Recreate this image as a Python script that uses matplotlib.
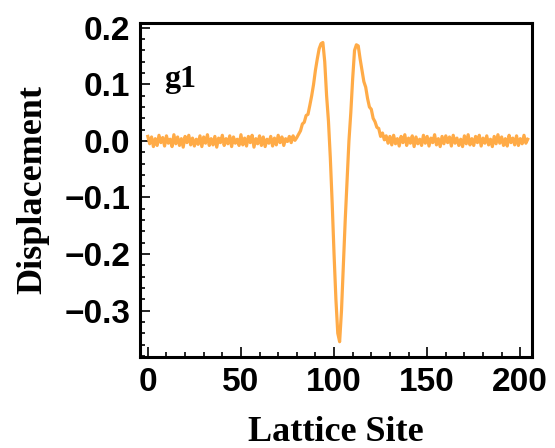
import numpy as np
import matplotlib
matplotlib.use("Agg")
import matplotlib.pyplot as plt
from matplotlib.ticker import MultipleLocator, FixedLocator

# Lattice displacement profile (sites 0..204)
left_tail = [
    0.008, -0.005, 0.007, -0.010, 0.004, -0.008, 0.010, -0.003, 0.006, -0.009,
    0.009, -0.004, 0.003, -0.010, 0.011, -0.005, 0.007, -0.008, 0.004, -0.011,
    0.008, -0.003, 0.010, -0.007, 0.005, -0.009, 0.003, -0.006, 0.009, -0.010,
    0.007, -0.004, 0.011, -0.008, 0.004, -0.007, 0.008, -0.011, 0.005, -0.003,
    0.010, -0.008, 0.004, -0.005, 0.009, -0.010, 0.007, -0.004, 0.003, -0.008,
    0.011, -0.007, 0.005, -0.009, 0.008, -0.003, 0.010, -0.011, 0.004, -0.005,
    0.009, -0.008, 0.007, -0.010, 0.003, -0.004, 0.008, -0.009, 0.005, -0.007,
    0.010, -0.003, 0.007, -0.008, 0.004, -0.001, 0.008, -0.003, 0.009, 0.001,
]
core = [
    0.006, 0.012, 0.018, 0.030, 0.033, 0.045, 0.047, 0.063, 0.080, 0.100,
    0.125, 0.145, 0.163, 0.172, 0.174, 0.140, 0.080, 0.035, -0.030, -0.110,
    -0.200, -0.280, -0.340, -0.355, -0.300, -0.220, -0.140, -0.070, 0.000, 0.050,
    0.110, 0.160, 0.170, 0.168, 0.145, 0.125, 0.105, 0.095, 0.075, 0.060,
    0.056, 0.040, 0.034, 0.024, 0.022, 0.008, 0.014, 0.002,
]
right_tail = [
    0.009, -0.004, 0.008, -0.007, 0.010, -0.005, 0.004, -0.009, 0.008, -0.003,
    0.011, -0.008, 0.005, -0.004, 0.009, -0.010, 0.007, -0.005, 0.003, -0.008,
    0.010, -0.004, 0.008, -0.009, 0.005, -0.003, 0.011, -0.007, 0.004, -0.010,
    0.008, -0.005, 0.009, -0.003, 0.007, -0.009, 0.010, -0.004, 0.005, -0.008,
    0.003, -0.010, 0.009, -0.005, 0.011, -0.007, 0.004, -0.008, 0.008, -0.003,
    0.010, -0.009, 0.005, -0.004, 0.009, -0.007, 0.003, -0.010, 0.008, -0.005,
    0.011, -0.004, 0.007, -0.008, 0.004, -0.009, 0.010, -0.003, 0.005, -0.007,
    0.009, -0.008, 0.004, -0.005, 0.010, -0.004, 0.003,
]
displacement = left_tail + core + right_tail
sites = list(range(len(displacement)))

x_major = [0, 50, 100, 150, 200]
y_major = [-0.3, -0.2, -0.1, 0.0, 0.1, 0.2]
y_labels = ["\u22120.3", "\u22120.2", "\u22120.1", "0.0", "0.1", "0.2"]
panel_tag = "g1"

line_color = "#FFAB47"
sans = "Liberation Sans"
serif = "Liberation Serif"

fig = plt.figure(figsize=(5.55, 4.48), dpi=100)
ax = fig.add_axes([140 / 555, 91 / 448, 392 / 555, 334 / 448])

ax.plot(sites, displacement, color=line_color, lw=2.3, solid_joinstyle="round")

ax.set_xlim(-4.2, 206.3)
ax.set_ylim(-0.382, 0.2085)

ax.xaxis.set_major_locator(FixedLocator(x_major))
ax.xaxis.set_minor_locator(MultipleLocator(10))
ax.yaxis.set_major_locator(FixedLocator(y_major))
ax.yaxis.set_minor_locator(MultipleLocator(0.02))
ax.set_yticklabels(y_labels)

ax.tick_params(which="both", direction="in", top=False, right=False,
               width=1.2, color="black")
ax.tick_params(which="major", length=7, pad=7)
ax.tick_params(which="minor", length=3.5)
for lab in ax.get_xticklabels() + ax.get_yticklabels():
    lab.set_fontfamily(sans)
    lab.set_fontweight("bold")
    lab.set_fontsize(24)

for sp in ax.spines.values():
    sp.set_linewidth(2.2)
    sp.set_color("black")

ax.set_xlabel("Lattice Site", fontfamily=serif, fontweight="bold", fontsize=26)
ax.set_ylabel("Displacement", fontfamily=serif, fontweight="bold", fontsize=26)
ax.xaxis.set_label_coords(0.5, -0.176)
ax.yaxis.set_label_coords(-0.232, 0.5)

ax.text(9, 0.095, panel_tag, fontfamily=serif, fontweight="bold", fontsize=23,
        ha="left", va="baseline")

fig.savefig("out.png", dpi=100)
